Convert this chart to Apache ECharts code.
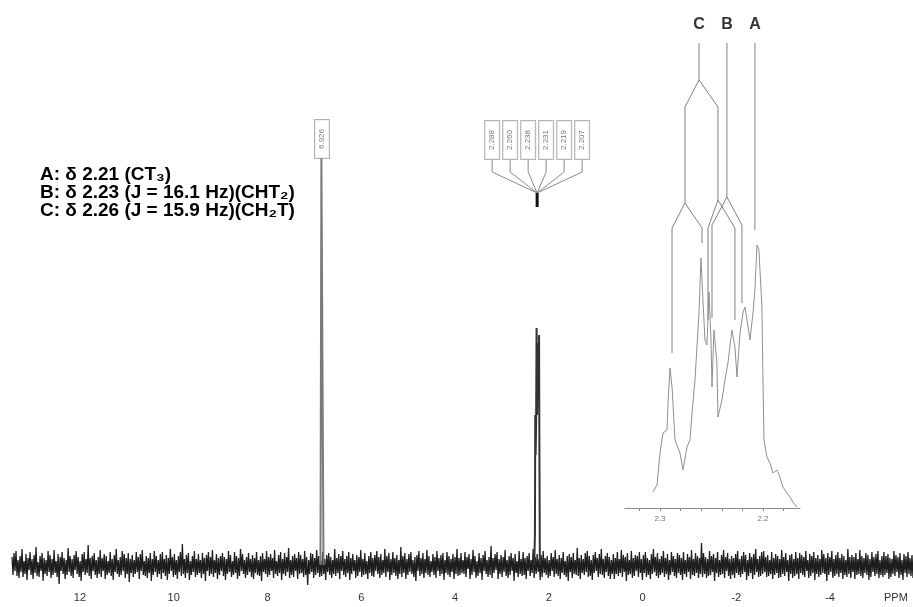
<!DOCTYPE html>
<html><head><meta charset="utf-8">
<script src="https://cdn.jsdelivr.net/npm/echarts@6/dist/echarts.min.js"></script>
<style>html,body{margin:0;padding:0;background:#fff}#c{width:913px;height:607px}</style>
</head><body><div id="c"></div>
<script>
// ---------- data ----------
const axisTicks = [12, 10, 8, 6, 4, 2, 0, -2, -4];
const axisUnit = 'PPM';
const noiseStartPpm = 13.45, noiseEndPpm = -5.77;
const noise = [
 8,-10,12,-6,14,-11,5,-13,9,-7,16,-12,4,-9,11,-15,7,-5,13,-10,6,-14,10,-8,18,-11,3,-12,9,-6,
 12,-16,7,-9,5,-11,14,-7,10,-13,6,-10,15,-8,4,-12,11,-19,8,-6,13,-9,7,-14,5,-10,17,-7,9,-11,
 6,-13,10,-5,14,-9,8,-12,4,-16,11,-7,13,-10,6,-8,20,-11,7,-14,9,-6,12,-10,5,-13,8,-9,15,-12,
 7,-6,11,-14,9,-10,4,-8,13,-11,6,-15,10,-7,16,-9,5,-12,8,-10,14,-6,11,-13,7,-9,12,-17,6,-8,
 10,-12,5,-9,13,-7,8,-14,11,-6,15,-10,4,-11,9,-13,7,-8,12,-16,6,-10,14,-7,9,-12,5,-9,11,-14,
 13,-8,6,-11,10,-15,7,-9,16,-6,8,-12,11,-10,5,-14,9,-7,13,-11,21,-9,6,-13,10,-8,12,-15,4,-10,
 9,-7,14,-12,6,-10,11,-8,5,-13,12,-9,7,-16,10,-6,13,-11,8,-9,15,-12,5,-8,11,-14,7,-10,9,-6,
 12,-11,8,-15,6,-9,14,-7,10,-12,4,-10,13,-8,9,-14,7,-11,16,-6,11,-9,5,-13,8,-10,12,-7,6,-12,
 10,-14,7,-8,13,-10,5,-11,9,-16,12,-7,6,-9,14,-12,8,-10,11,-6,7,-13,15,-9,4,-11,10,-8,13,-15,
 6,-9,12,-11,8,-7,17,-13,5,-10,9,-12,11,-6,7,-14,13,-9,10,-8,6,-12,14,-10,8,-20,5,-9,12,-7,
 11,-13,7,-10,15,-8,9,-12,4,-11,13,-9,6,-15,10,-7,12,-10,8,-13,5,-9,16,-11,7,-8,11,-14,9,-6,
 14,-10,6,-12,9,-8,13,-15,7,-9,11,-6,5,-13,10,-11,8,-7,15,-12,6,-10,12,-9,4,-14,9,-8,13,-11,
 7,-12,10,-6,14,-9,8,-13,11,-10,5,-8,16,-12,9,-7,12,-15,6,-10,13,-8,7,-11,10,-14,5,-9,18,-12,
 9,-8,12,-14,6,-10,11,-7,13,-9,5,-12,8,-16,10,-6,14,-11,7,-9,12,-13,6,-8,15,-10,9,-12,4,-7,
 11,-10,8,-13,14,-6,7,-11,10,-9,12,-15,5,-8,13,-10,9,-12,6,-7,11,-14,8,-9,16,-11,7,-10,12,-8,
 5,-9,13,-12,8,-4,11,-14,6,-10,15,-7,9,-13,4,-11,12,-8,7,-15,10,-6,14,-9,5,-12,8,-10,19,-13,
 7,-8,11,-5,13,-14,6,-9,10,-12,8,-7,15,-11,5,-13,9,-10,12,-6,7,-16,11,-8,4,-12,14,-9,6,-11,
 13,-10,7,-14,9,-6,12,-11,5,-8,16,-13,8,-9,11,-7,6,-15,10,-12,14,-8,7,-10,9,-13,5,-11,12,-6,
 8,-12,15,-9,6,-11,10,-14,7,-8,13,-10,4,-12,9,-16,11,-7,8,-13,12,-9,5,-10,17,-11,7,-14,10,-8,
 6,-10,12,-7,14,-12,9,-11,5,-15,10,-8,13,-6,7,-12,11,-9,16,-10,6,-13,9,-7,12,-11,8,-14,5,-9,
 11,-14,7,-9,13,-11,6,-8,15,-12,10,-7,8,-16,12,-10,5,-9,14,-13,7,-11,10,-6,9,-12,13,-8,6,-15,
 10,-8,13,-12,7,-10,5,-14,11,-9,16,-7,8,-11,12,-13,6,-10,9,-8,14,-12,7,-9,11,-15,5,-10,13,-7,
 9,-11,6,-13,12,-8,10,-10,7,-15,13,-9,5,-12,11,-7,8,-14,15,-10,6,-11,12,-8,9,-13,7,-9,22,-12,
 12,-9,8,-13,6,-11,14,-10,9,-7,11,-16,7,-8,13,-12,5,-10,10,-9,15,-13,8,-6,12,-11,6,-14,9,-10,
 7,-13,11,-8,14,-10,6,-12,9,-9,13,-7,10,-15,5,-11,12,-8,8,-14,11,-10,16,-7,6,-12,9,-11,13,-9,
 14,-7,8,-12,10,-11,5,-9,13,-14,7,-10,11,-8,9,-13,6,-12,15,-9,8,-11,12,-7,5,-16,10,-9,11,-13,
 6,-11,13,-9,7,-14,12,-8,10,-10,8,-12,14,-6,5,-13,11,-11,9,-8,13,-15,7,-9,10,-12,6,-10,15,-8,
 11,-9,7,-16,12,-10,8,-7,14,-13,6,-11,10,-9,13,-12,7,-8,11,-14,9,-10,5,-12,16,-9,8,-13,10,-7,
 8,-14,12,-10,6,-9,15,-11,9,-13,7,-8,12,-10,10,-15,6,-12,13,-7,8,-11,11,-9,14,-13,5,-10,9,-12,
 13,-10,9,-8,11,-14,7,-12,6,-9,14,-11,10,-7,8,-13,12,-10,5,-15,11,-8,9,-12,13,-9,7,-11,10,-13
];
const singletPpm = [6.870, 6.850, 6.825, 6.805];
const singletInt = [0, 407, 407, 0];
const singletLabel = '6.926';
const multipletPpm = [2.310,2.295,2.288,2.280,2.270,2.260,2.258,2.250,2.240,2.231,2.225,2.219,2.213,2.207,2.200,2.190];
const multipletInt = [0,30,150,110,140,237,228,150,190,222,170,205,180,230,120,0];
const multipletLabels = ['2.288','2.260','2.238','2.231','2.219','2.207'];
const multipletCentre = 2.248;

const insetTicks = [2.32, 2.30, 2.28, 2.26, 2.24, 2.22, 2.20, 2.18];
const insetTickLabels = [2.3, 2.2];
const insetPpm = [2.3068,2.3029,2.3000,2.2971,2.2932,2.2922,2.2903,2.2883,2.2854,2.2806,2.2777,2.2738,2.2709,2.2689,2.2660,2.2641,2.2621,2.2602,2.2583,2.2563,2.2544,2.2524,2.2505,2.2495,2.2476,2.2447,2.2437,2.2398,2.2369,2.2340,2.2301,2.2272,2.2252,2.2223,2.2194,2.2175,2.2155,2.2126,2.2097,2.2078,2.2058,2.2039,2.2010,2.2000,2.1990,2.1961,2.1932,2.1903,2.1864,2.1835,2.1806,2.1767,2.1738,2.1709,2.1670];
const insetInt = [16,23,55,75,78,105,140,121,68,55,38,61,68,95,128,161,195,250,208,168,163,216,168,121,178,145,91,108,128,145,178,161,131,175,195,201,188,168,195,218,263,258,201,128,68,51,45,35,38,31,21,15,11,6,1];

const treeC = [
  [[2.2757,305],[2.2757,401],[2.2621,428],[2.2437,401],[2.2437,308]],
  [[2.2621,428],[2.2621,465]],
  [[2.2883,155],[2.2883,280],[2.2757,305],[2.2592,280],[2.2592,265]],
  [[2.2534,188],[2.2534,280],[2.2437,308],[2.2272,280],[2.2272,188]]
];
const treeB = [
  [[2.2350,465],[2.2350,311]],
  [[2.2495,190],[2.2495,283],[2.2350,311],[2.2204,283],[2.2204,205]]
];
const treeA = [
  [[2.2078,465],[2.2078,278]]
];
const treeLetters = ['C', 'B', 'A'];
const treeTops = [[2.2621,465],[2.2350,465],[2.2078,465]];

const assignments = [
  'A: δ 2.21 (CT₃)',
  'B: δ 2.23 (J = 16.1 Hz)(CHT₂)',
  'C: δ 2.26 (J = 15.9 Hz)(CH₂T)'
];

// ---------- build ----------
const chart = echarts.init(document.getElementById('c'), null, {renderer: 'canvas'});
const step = (noiseStartPpm - noiseEndPpm) / (noise.length - 1);
const noiseData = noise.map((v, i) => [noiseStartPpm - i * step, v]);

const pxPerPpm = 901 / (13.45 + 5.77);
const boxSpacing = 18 / pxPerPpm;
const boxPpm = multipletLabels.map((_, i) => multipletCentre + (2.5 - i) * boxSpacing);

const LINE = (data, color, width, xi) => ({
  type: 'line', data, xAxisIndex: xi || 0, yAxisIndex: xi || 0,
  showSymbol: false, symbol: 'none', silent: true, animation: false,
  lineStyle: {color, width}, z: 3
});

const series = [];
series.push(LINE(noiseData, '#1e1e1e', 1.3, 0));
series.push(LINE(singletPpm.map((p, i) => [p, singletInt[i]]), '#7a7a7a', 2, 0));
series.push(LINE(multipletPpm.map((p, i) => [p, multipletInt[i]]), '#333', 2, 0));
boxPpm.forEach(bp => series.push(LINE([[bp,405],[bp,393],[multipletCentre,372]], '#8a8a8a', 1, 0)));
series.push(LINE([[multipletCentre,372],[multipletCentre,358]], '#111', 3, 0));

const boxLabel = {
  show: true, position: 'inside', rotate: 90, fontSize: 8, color: '#555',
  fontFamily: 'Liberation Sans', backgroundColor: '#fff', borderColor: '#a0a0a0',
  borderWidth: 1, padding: [3, 9], formatter: p => p.name
};
series.push({
  type: 'scatter', symbolSize: 0, silent: true, animation: false, z: 5,
  label: boxLabel,
  data: [{name: singletLabel, value: [(singletPpm[1] + singletPpm[2]) / 2, 426]}]
    .concat(multipletLabels.map((n, i) => ({name: n, value: [boxPpm[i], 425]})))
});

[treeC, treeB, treeA].forEach(t => t.forEach(seg => series.push(LINE(seg, '#808080', 1, 1))));
series.push(LINE(insetPpm.map((p, i) => [p, insetInt[i]]), '#8f8f8f', 1, 1));
series.push({
  type: 'scatter', xAxisIndex: 1, yAxisIndex: 1, symbolSize: 0, silent: true, animation: false,
  label: {show: true, position: 'top', distance: 10, fontSize: 16, fontWeight: 'bold',
          color: '#000', fontFamily: 'Liberation Sans', formatter: p => p.name},
  data: treeLetters.map((n, i) => ({name: n, value: treeTops[i]}))
});

chart.setOption({
  animation: false,
  backgroundColor: '#fff',
  title: {
    left: 40, top: 166, padding: 0, text: assignments.join('\n'),
    textStyle: {fontSize: 19, fontWeight: 'bold', color: '#000', fontFamily: 'Liberation Sans', lineHeight: 18}
  },
  graphic: [{
    type: 'text', left: 884, top: 592, silent: true,
    style: {text: axisUnit, fontSize: 11, fill: '#333', fontFamily: 'Liberation Sans'}
  }],
  grid: [
    {left: 12, width: 901, top: 65, height: 523},
    {left: 625, width: 175, top: 40, height: 468}
  ],
  xAxis: [
    {type: 'value', gridIndex: 0, inverse: true, min: -5.77, max: 13.45,
     axisLine: {show: false}, axisTick: {show: false}, splitLine: {show: false},
     axisLabel: {customValues: axisTicks, margin: 4, fontSize: 11, color: '#333', fontFamily: 'Liberation Sans'}},
    {type: 'value', gridIndex: 1, inverse: true, min: 2.164, max: 2.334,
     axisLine: {show: true, lineStyle: {color: '#8a8a8a', width: 1}},
     axisTick: {show: true, customValues: insetTicks, length: 3, lineStyle: {color: '#8a8a8a'}},
     splitLine: {show: false},
     axisLabel: {customValues: insetTickLabels, margin: 7, fontSize: 8, color: '#777',
                 fontFamily: 'Liberation Sans', formatter: v => v.toFixed(1)}}
  ],
  yAxis: [
    {type: 'value', gridIndex: 0, min: -23, max: 500, show: false, splitLine: {show: false}},
    {type: 'value', gridIndex: 1, min: 0, max: 468, show: false, splitLine: {show: false}}
  ],
  series
});
</script>
</body></html>
